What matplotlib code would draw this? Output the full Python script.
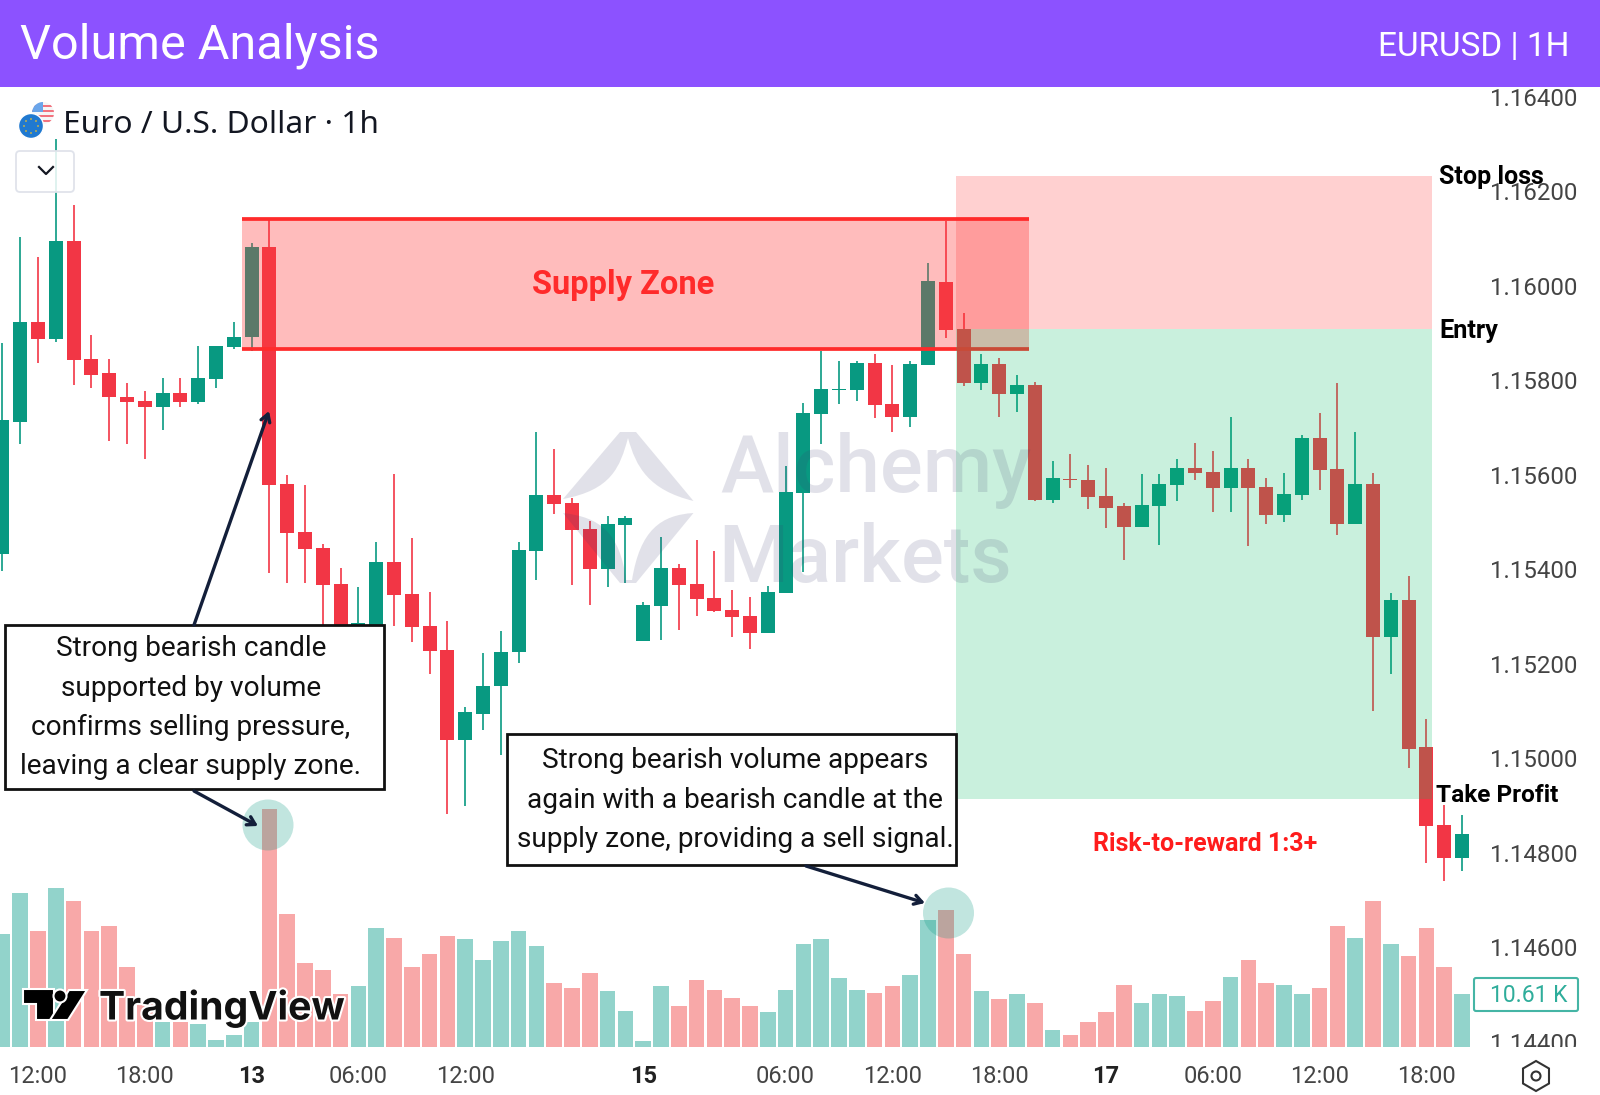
import matplotlib
matplotlib.use('Agg')
import matplotlib.pyplot as plt
import matplotlib.patheffects as pe
from matplotlib.patches import Rectangle, Circle, FancyBboxPatch, PathPatch, Polygon, RegularPolygon
from matplotlib.path import Path
from matplotlib.transforms import ScaledTranslation

opens = [1.15434, 1.15715, 1.15926, 1.15890, 1.16097, 1.15848, 1.15817, 1.15768, 1.15759, 1.15746,
         1.15776, 1.15756, 1.15805, 1.15873, 1.15894, 1.16084, 1.15584, 1.15481, 1.15447, 1.15371,
         1.15255, 1.15270, 1.15419, 1.15351, 1.15283, 1.15232, 1.15041, 1.15096, 1.15156, 1.15227,
         1.15442, 1.15560, 1.15543, 1.15488, 1.15404, 1.15496, 1.15251, 1.15325, 1.15406, 1.15371,
         1.15341, 1.15316, 1.15304, 1.15267, 1.15353, 1.15565, 1.15732, 1.15783, 1.15783, 1.15840,
         1.15752, 1.15725, 1.15835, 1.16011, 1.15912, 1.15797, 1.15837, 1.15773, 1.15793, 1.15550,
         1.15594, 1.15591, 1.15557, 1.15537, 1.15493, 1.15537, 1.15581, 1.15618, 1.15608, 1.15574,
         1.15618, 1.15577, 1.15517, 1.15560, 1.15680, 1.15615, 1.15499, 1.15583, 1.15259, 1.15338,
         1.15026, 1.14862, 1.14792]
closes = [1.15718, 1.15926, 1.15890, 1.16097, 1.15845, 1.15814, 1.15767, 1.15756, 1.15746, 1.15776,
          1.15756, 1.15807, 1.15875, 1.15895, 1.16084, 1.15582, 1.15480, 1.15446, 1.15369, 1.15240,
          1.15289, 1.15419, 1.15349, 1.15281, 1.15229, 1.15041, 1.15101, 1.15156, 1.15228, 1.15443,
          1.15560, 1.15541, 1.15486, 1.15404, 1.15498, 1.15512, 1.15327, 1.15406, 1.15369, 1.15339,
          1.15315, 1.15301, 1.15267, 1.15355, 1.15567, 1.15734, 1.15785, 1.15785, 1.15840, 1.15750,
          1.15725, 1.15838, 1.16013, 1.15910, 1.15797, 1.15837, 1.15773, 1.15792, 1.15550, 1.15595,
          1.15592, 1.15555, 1.15533, 1.15493, 1.15539, 1.15583, 1.15618, 1.15606, 1.15574, 1.15618,
          1.15574, 1.15517, 1.15563, 1.15680, 1.15613, 1.15499, 1.15583, 1.15259, 1.15338, 1.15023,
          1.14860, 1.14792, 1.14842]
highs = [1.15882, 1.16105, 1.16063, 1.16313, 1.16173, 1.15899, 1.15848, 1.15796, 1.15779, 1.15807,
         1.15807, 1.15875, 1.15875, 1.15926, 1.16094, 1.16141, 1.15602, 1.15582, 1.15457, 1.15406,
         1.15366, 1.15461, 1.15604, 1.15468, 1.15355, 1.15294, 1.15111, 1.15225, 1.15273, 1.15461,
         1.15694, 1.15658, 1.15553, 1.15505, 1.15516, 1.15516, 1.15334, 1.15471, 1.15414, 1.15464,
         1.15441, 1.15359, 1.15344, 1.15368, 1.15622, 1.15755, 1.15864, 1.15844, 1.15844, 1.15858,
         1.15835, 1.15844, 1.16050, 1.16140, 1.15946, 1.15858, 1.15850, 1.15814, 1.15800, 1.15632,
         1.15646, 1.15623, 1.15618, 1.15543, 1.15605, 1.15605, 1.15636, 1.15669, 1.15653, 1.15724,
         1.15636, 1.15595, 1.15607, 1.15686, 1.15734, 1.15796, 1.15694, 1.15607, 1.15352, 1.15389,
         1.15085, 1.14903, 1.14883]
lows = [1.15400, 1.15667, 1.15839, 1.15884, 1.15793, 1.15787, 1.15674, 1.15667, 1.15637, 1.15698,
        1.15746, 1.15752, 1.15787, 1.15869, 1.15865, 1.15394, 1.15374, 1.15374, 1.15280, 1.15180,
        1.15210, 1.15230, 1.15283, 1.15249, 1.15181, 1.14885, 1.14902, 1.15062, 1.15010, 1.15204,
        1.15380, 1.15519, 1.15369, 1.15328, 1.15366, 1.15373, 1.15251, 1.15253, 1.15274, 1.15304,
        1.15313, 1.15260, 1.15233, 1.15267, 1.15353, 1.15397, 1.15667, 1.15752, 1.15759, 1.15722,
        1.15694, 1.15704, 1.15835, 1.15893, 1.15790, 1.15783, 1.15725, 1.15735, 1.15547, 1.15543,
        1.15574, 1.15530, 1.15490, 1.15423, 1.15493, 1.15455, 1.15547, 1.15591, 1.15523, 1.15523,
        1.15451, 1.15499, 1.15503, 1.15550, 1.15571, 1.15475, 1.15499, 1.15102, 1.15182, 1.14983,
        1.14782, 1.14743, 1.14764]
# volume in thousands
volumes = [22.68, 31.07, 23.28, 32.07, 29.46, 23.28, 24.29, 16.10, 9.39, 5.03,
           5.03, 4.70, 1.48, 2.48, 5.03, 47.98, 26.84, 16.84, 15.50, 10.74,
           12.21, 23.95, 21.94, 16.10, 18.72, 22.34, 21.67, 17.45, 21.34, 23.28,
           20.33, 12.88, 11.88, 14.83, 11.21, 7.31, 1.14, 12.21, 8.32, 13.49,
           11.54, 9.93, 8.32, 6.98, 11.54, 20.73, 21.67, 13.82, 11.54, 10.87,
           12.21, 14.49, 25.57, 27.51, 18.72, 11.21, 9.60, 10.60, 8.92, 3.42,
           2.48, 5.03, 6.98, 12.55, 8.92, 10.60, 10.27, 7.31, 9.26, 14.16,
           17.45, 12.88, 12.55, 10.60, 11.88, 24.29, 22.01, 29.39, 20.73, 18.39,
           23.95, 16.10, 10.61]

price_ticks = [1.164, 1.162, 1.160, 1.158, 1.156, 1.154, 1.152, 1.150, 1.148, 1.146, 1.144]
time_ticks = [2, 8, 14, 20, 26, 36, 44, 50, 56, 62, 68, 74, 80]
time_labels = ['12:00', '18:00', '13', '06:00', '12:00', '15', '06:00', '12:00', '18:00', '17', '06:00', '12:00', '18:00']
bold_labels = ['13', '15', '17']

zone_low, zone_high = 1.15869, 1.16144
stop_price, entry_price, target_price = 1.16235, 1.15911, 1.14916
box1_lines = ['Strong bearish candle', 'supported by volume', 'confirms selling pressure,', 'leaving a clear supply zone.']
box2_lines = ['Strong bearish volume appears', 'again with a bearish candle at the', 'supply zone, providing a sell signal.']

GREEN = '#089981'
RED = '#F23645'
W, H = 1600, 1095
plt.rcParams['font.family'] = ['Roboto', 'DejaVu Sans']

fig = plt.figure(figsize=(16, 10.95), dpi=100)
rect = [0, (H - 1047) / H, 1473 / W, 960 / H]
xlim = (-0.135, 82.62)

# volume underneath
vax = fig.add_axes(rect, zorder=1)
vax.set_xlim(xlim)
vax.set_ylim(0, 193.2)
xs = list(range(len(opens)))
vcolors = ['#92D3CB' if c >= o else '#F8A8A8' for o, c in zip(opens, closes)]
vax.bar(xs, volumes, width=0.88, color=vcolors)
for s in vax.spines.values():
    s.set_visible(False)
vax.set_yticks([])
vax.set_xticks(time_ticks)
vax.set_xticklabels(time_labels, fontsize=17, color='#444444')
vax.tick_params(axis='x', length=0, pad=13)
for lbl in vax.get_xticklabels():
    if lbl.get_text() in bold_labels:
        lbl.set_fontweight('bold')
        lbl.set_color('#222222')

# candles
ax = fig.add_axes(rect, zorder=2)
ax.patch.set_alpha(0)
ax.set_xlim(xlim)
ax.set_ylim(1.143916, 1.164233)
colors = [GREEN if c >= o else RED for o, c in zip(opens, closes)]
ax.vlines(xs, lows, highs, colors=colors, lw=1.2, zorder=2)
ax.bar(xs, [abs(c - o) for o, c in zip(opens, closes)], bottom=[min(o, c) for o, c in zip(opens, closes)],
       width=0.79, color=colors, zorder=3)
ax.yaxis.tick_right()
ax.set_yticks(price_ticks)
ax.set_yticklabels(['%.5f' % p for p in price_ticks], fontsize=17.3, color='#444444')
ax.tick_params(axis='y', length=0, pad=12)
nudge = ScaledTranslation(0, 1.5 / 100, fig.dpi_scale_trans)
for lbl in ax.get_yticklabels():
    lbl.set_transform(lbl.get_transform() + nudge)
ax.set_xticks([])
for s in ax.spines.values():
    s.set_visible(False)

# supply zone and position boxes
ax.add_patch(Rectangle((13.46, zone_low), 57.67 - 13.46, zone_high - zone_low, fc=(1, 60 / 255, 60 / 255, 0.34), lw=0, zorder=4))
ax.hlines([zone_low, zone_high], 13.46, 57.67, colors='#FF2B2B', lw=2.7, zorder=4.5)
ax.add_patch(Rectangle((53.57, entry_price), 26.74, stop_price - entry_price, fc=(1, 40 / 255, 40 / 255, 0.214), lw=0, zorder=5))
ax.add_patch(Rectangle((53.57, target_price), 26.74, entry_price - target_price, fc=(7 / 255, 190 / 255, 101 / 255, 0.214), lw=0, zorder=5))

# everything else sits on a pixel overlay
ov = fig.add_axes([0, 0, 1, 1], zorder=3)
ov.set_xlim(0, W)
ov.set_ylim(H, 0)
ov.axis('off')

ov.add_patch(Rectangle((0, 0), W, 87, fc='#8C52FF', lw=0))
ov.text(20, 46, 'Volume Analysis', color='white', fontsize=35, va='center', ha='left')
ov.text(1570, 47, 'EURUSD | 1H', color='white', fontsize=24, va='center', ha='right')

# hide the bottom of the last price label
ov.add_patch(Rectangle((1473, 1047), 127, 48, fc='white', lw=0))

# watermark
wm = (60 / 255, 60 / 255, 110 / 255, 0.15)
ov.text(720, 492, 'Alchemy', fontsize=57.5, color=wm, fontweight='medium', va='baseline')
ov.text(718, 582, 'Markets', fontsize=57.5, color=wm, fontweight='medium', va='baseline')
top_verts = [(563, 499), (620, 432), (636, 432), (693.5, 501), (648.6, 490), (636, 467), (628, 438), (620, 467), (611.8, 490), (563, 499), (563, 499)]
top_codes = [Path.MOVETO, Path.LINETO, Path.LINETO, Path.LINETO, Path.CURVE4, Path.CURVE4, Path.CURVE4, Path.CURVE4, Path.CURVE4, Path.CURVE4, Path.CLOSEPOLY]
ov.add_patch(PathPatch(Path(top_verts, top_codes), fc=wm, lw=0))
low_verts = [(563, 513), (620, 583), (636, 583), (693.5, 513), (661, 515), (640, 530), (632, 580), (626, 580), (620, 533), (600, 517), (563, 513), (563, 513)]
low_codes = [Path.MOVETO, Path.LINETO, Path.LINETO, Path.LINETO, Path.CURVE4, Path.CURVE4, Path.CURVE4, Path.LINETO, Path.CURVE4, Path.CURVE4, Path.CURVE4, Path.CLOSEPOLY]
ov.add_patch(PathPatch(Path(low_verts, low_codes), fc=wm, lw=0))

# symbol title, flags and the little button
ov.text(63, 125, 'Euro / U.S. Dollar · 1h', fontsize=22.8, color='#131722', family=['Noto Sans', 'DejaVu Sans'], va='center', ha='left')
us = Circle((43, 113), 11, fc='#F6F6F6', lw=0)
ov.add_patch(us)
for y in [105, 110, 115, 120]:
    r = Rectangle((32, y), 23, 2.4, fc='#F2737F', lw=0)
    ov.add_patch(r)
    r.set_clip_path(us)
canton = Rectangle((32, 102), 11, 10, fc='#6AA5EA', lw=0)
ov.add_patch(canton)
canton.set_clip_path(us)
ov.add_patch(Circle((31, 126), 12.5, fc='#2079D0', ec='white', lw=1))
for dx, dy in [(0, -7), (5, -5), (7, 0), (5, 5), (0, 7), (-5, 5), (-7, 0), (-5, -5)]:
    ov.add_patch(Circle((31 + dx, 126 + dy), 0.9, fc='#D9B93A', lw=0))
ov.add_patch(FancyBboxPatch((19, 154), 52, 35, boxstyle='round,pad=3,rounding_size=4', fc=(1, 1, 1, 0.85), ec='#E0E3EB', lw=1.3))
ov.plot([39, 46, 53], [167, 174, 167], color='#131722', lw=1.6)

# labels
ov.text(623, 285, 'Supply Zone', color='#FF2B2B', fontsize=23.5, fontweight='bold', ha='center', va='center')
ov.text(1439, 177, 'Stop loss', color='black', fontsize=18, fontweight='bold', va='center')
ov.text(1439, 331, 'Entry', color='black', fontsize=18.3, fontweight='bold', va='center')
ov.text(1436, 795, 'Take Profit', color='black', fontsize=17.6, fontweight='bold', va='center')
ov.text(1205, 844, 'Risk-to-reward 1:3+', color='#FF1C1C', fontsize=18, fontweight='bold', ha='center', va='center')

# volume highlights
ov.add_patch(Circle((268, 825), 25.5, fc=(8 / 255, 153 / 255, 129 / 255, 0.25), lw=0))
ov.add_patch(Circle((948.5, 913), 25.5, fc=(8 / 255, 153 / 255, 129 / 255, 0.25), lw=0))

# callouts
ov.add_patch(Rectangle((5, 625), 379, 164, fc='white', ec='#111111', lw=2))
for i, line in enumerate(box1_lines):
    ov.text(191, 649 + i * 39.2, line, fontsize=20.2, color='#111111', ha='center', va='center')
ov.add_patch(Rectangle((507, 734), 449, 131, fc='white', ec='#111111', lw=2))
for i, line in enumerate(box2_lines):
    ov.text(735, 761 + i * 39.2, line, fontsize=20.2, color='#111111', ha='center', va='center')

for start, end in [((194, 625), (269, 411)), ((194, 791), (258, 826)), ((806, 866), (925, 903))]:
    ov.annotate('', xy=end, xytext=start, arrowprops=dict(arrowstyle='->,head_length=0.55,head_width=0.33', color='#131F3A', lw=2.4, shrinkA=0, shrinkB=0))

# last volume tag
ov.add_patch(FancyBboxPatch((1476, 980), 100, 29, boxstyle='round,pad=2,rounding_size=2', fc='white', ec='#45B5A5', lw=1.5))
ov.text(1529, 996, '%.2f K' % volumes[-1], fontsize=16.5, color='#2FAD9B', ha='center', va='center')

# settings icon
ov.add_patch(RegularPolygon((1536, 1076), 6, radius=15, fc='white', ec='#333333', lw=1.5))
ov.add_patch(Circle((1536, 1076), 4.5, fc='white', ec='#333333', lw=1.5))

# TradingView logo
halo = [pe.withStroke(linewidth=3, foreground='white')]
ov.add_patch(Polygon([(23, 989), (54, 989), (54, 1020), (36, 1020), (36, 1004), (23, 1004)], fc='black', ec='white', lw=1.5))
ov.add_patch(Polygon([(69, 990), (87, 990), (68, 1020), (50, 1020)], fc='black', ec='white', lw=1.5))
ov.add_patch(Circle((60, 996), 6.5, fc='black', ec='white', lw=1.5))
ov.text(99, 1008, 'TradingView', fontsize=28.2, fontweight='bold', color='#111111', family=['Inter', 'Roboto'],
        va='center', ha='left', path_effects=halo)

fig.savefig('out.png', dpi=100)
